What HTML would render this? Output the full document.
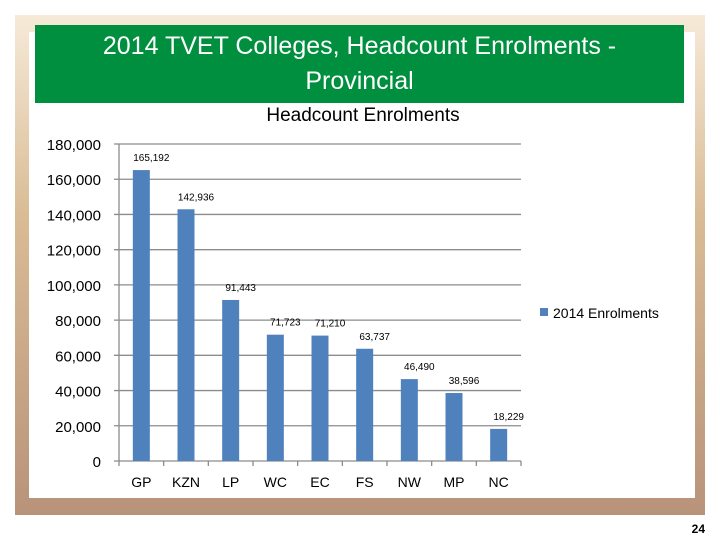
<!DOCTYPE html>
<html><head><meta charset="utf-8"><style>
body{margin:0;width:720px;height:540px;background:#fff;position:relative;overflow:hidden;font-family:"Liberation Sans",sans-serif}
#frame{position:absolute;left:15px;top:15px;width:690px;height:500px;background:linear-gradient(#f6ead8,#d9bc96 40%,#b8937a)}
#inner{position:absolute;left:29px;top:32px;width:666px;height:466px;background:#fff}
#hdr{position:absolute;left:35px;top:25px;width:649px;height:78px;background:#008f3e;color:#fff;text-align:center;font-size:25px;line-height:35px;padding-top:4px;box-sizing:border-box}
svg{position:absolute;left:0;top:0}
</style></head><body>
<div id="frame"></div>
<div id="inner"></div>
<div id="hdr">2014 TVET Colleges, Headcount Enrolments -<br>Provincial</div>
<svg id="c" width="720" height="540"></svg>
<script>
const categories=["GP","KZN","LP","WC","EC","FS","NW","MP","NC"];
const values=[165192,142936,91443,71723,71210,63737,46490,38596,18229];
const valueLabels=["165,192","142,936","91,443","71,723","71,210","63,737","46,490","38,596","18,229"];
const ticks=[0,20000,40000,60000,80000,100000,120000,140000,160000,180000];
const tickLabels=["0","20,000","40,000","60,000","80,000","100,000","120,000","140,000","160,000","180,000"];
const svg=document.getElementById('c');const NS='http://www.w3.org/2000/svg';
const x0=119,x1=521,yb=461,yt=144,max=180000;
const y=v=>yb-(v/max)*(yb-yt);
const bw=(x1-x0)/categories.length;
const xc=i=>x0+bw*(i+0.5);
function mk(t,a,txt){const e=document.createElementNS(NS,t);for(const k in a)e.setAttribute(k,a[k]);if(txt!=null)e.textContent=txt;svg.appendChild(e);return e;}
const ct=mk('text',{x:363,y:121,'text-anchor':'middle','font-size':19,fill:'#000'},'Headcount Enrolments');


ticks.forEach((t,i)=>{
 const g=mk('line',{x1:x0-5,x2:x1,y1:y(t),y2:y(t),stroke:'#8c8c8c','stroke-width':1.3});
 
 
 const l=mk('text',{x:101,y:y(t)+6,'text-anchor':'end','font-size':15,fill:'#000'},tickLabels[i]);
 
 
});
const ax=mk('line',{x1:x0,x2:x0,y1:yt,y2:yb,stroke:'#8c8c8c','stroke-width':1.3});


for(let i=0;i<=categories.length;i++){
 const tk=mk('line',{x1:x0+bw*i,x2:x0+bw*i,y1:yb,y2:yb+5,stroke:'#8c8c8c','stroke-width':1.3});
 
 
}
categories.forEach((c,i)=>{
 const b=mk('rect',{x:xc(i)-8.5,y:y(values[i]),width:17,height:yb-y(values[i]),fill:'#4f81bd'});
 
 
 const v=mk('text',{x:xc(i)+10,y:y(values[i])-9,'text-anchor':'middle','font-size':10,fill:'#000'},valueLabels[i]);
 
 
 const l=mk('text',{x:xc(i),y:yb+26,'text-anchor':'middle','font-size':14,fill:'#000'},c);
 
 
});
const lm=mk('rect',{x:540,y:308,width:8,height:8,fill:'#4f81bd'});


const lt=mk('text',{x:553,y:318,'font-size':14,fill:'#000'},'2014 Enrolments');


const pn=mk('text',{x:705,y:533,'text-anchor':'end','font-size':12,'font-weight':'bold',fill:'#000'},'24');


</script>
</body></html>
